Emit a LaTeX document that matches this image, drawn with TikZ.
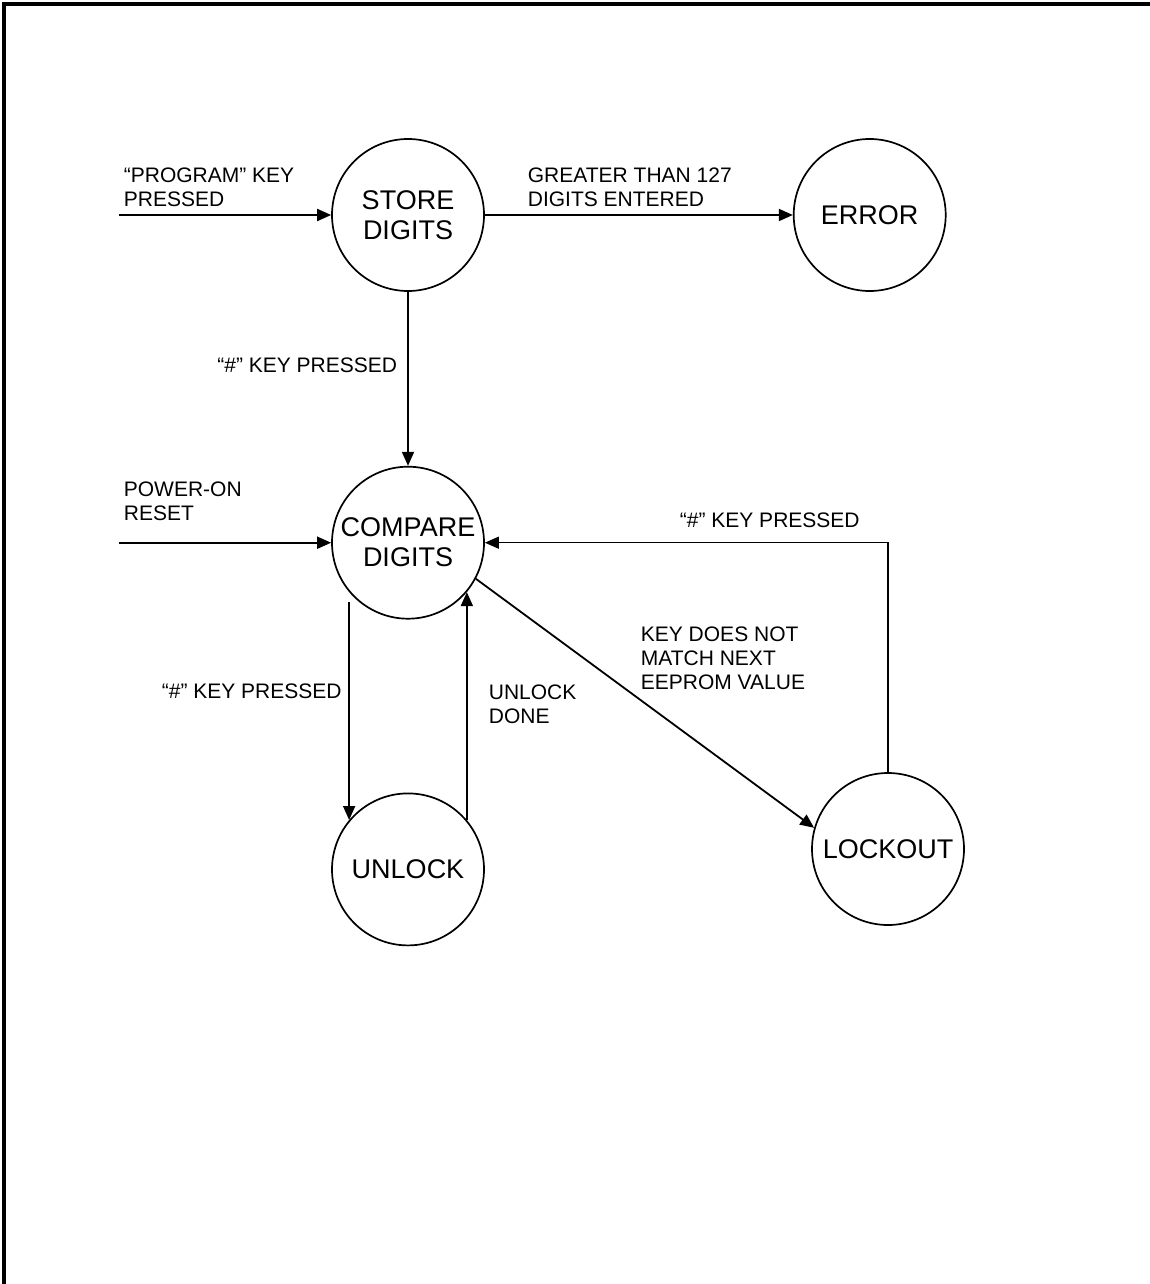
\documentclass[tikz,border=0pt]{standalone}
\usepackage{fontspec}
\setmainfont{Liberation Sans}
\usetikzlibrary{automata, positioning, arrows.meta}

\tikzset{
    every state/.style={draw, line width=1.7pt, minimum size=152pt, inner sep=0pt,
        align=center, font=\fontsize{27}{30}\selectfont},
    lbl/.style={anchor=north west, inner sep=0pt, align=left,
        font=\fontsize{21}{24}\selectfont},
    >={Triangle[length=14pt, width=12pt]}
}

\begin{document}
\begin{tikzpicture}[x=1pt, y=-1pt, line width=1.8pt]
        \useasboundingbox (0,0) rectangle (1150,1284);
        %Rahmen
        \draw[line width=3.5pt] (4,1284) |- (1150,4);

        %Zustaende
        \node[state](store) at (408,215){STORE\\DIGITS};
        \node[state, right = 308pt of store](error){ERROR};
        \node[state, below = 174pt of store](compare){COMPARE\\DIGITS};
        \node[state, below = 173pt of compare](unlock){UNLOCK};
        \node[state](lockout) at (888,849){LOCKOUT};

        \path (store.west) ++(-212,0) coordinate (progin);
        \path (compare.west) ++(-212,0) coordinate (powerin);

        %Uebergaenge
        \draw(progin) edge[->] (store);
        \draw(store) edge[->] (error);
        \draw(store) edge[->] (compare);
        \draw(powerin) edge[->] (compare);
        \draw(compare.220) edge[->, shorten <=10pt] (unlock.140);
        \draw(unlock.40) edge[->] (compare.320);
        \draw(compare.332) edge[->] (lockout.164);
        \draw[->, line width=1.2pt] (lockout.north) |- (compare.east);

        %Beschriftungen
        \node[lbl](progtxt) at (123,167){``PROGRAM'' KEY\\PRESSED};
        \node[lbl](greatertxt) at (527,167){GREATER THAN 127\\DIGITS ENTERED};
        \node[lbl, anchor=north east](storehashtxt) at (398,357){``\#'' KEY PRESSED};
        \node[lbl](powertxt) at (123,481){POWER-ON\\RESET};
        \node[lbl](lockhashtxt) at (679,512){``\#'' KEY PRESSED};
        \node[lbl](unlockhashtxt) at (161,683){``\#'' KEY PRESSED};
        \node[lbl](donetxt) at (488,684){UNLOCK\\DONE};
        \node[lbl](mismatchtxt) at (640,626){KEY DOES NOT\\MATCH NEXT\\EEPROM VALUE};
\end{tikzpicture}
\end{document}
